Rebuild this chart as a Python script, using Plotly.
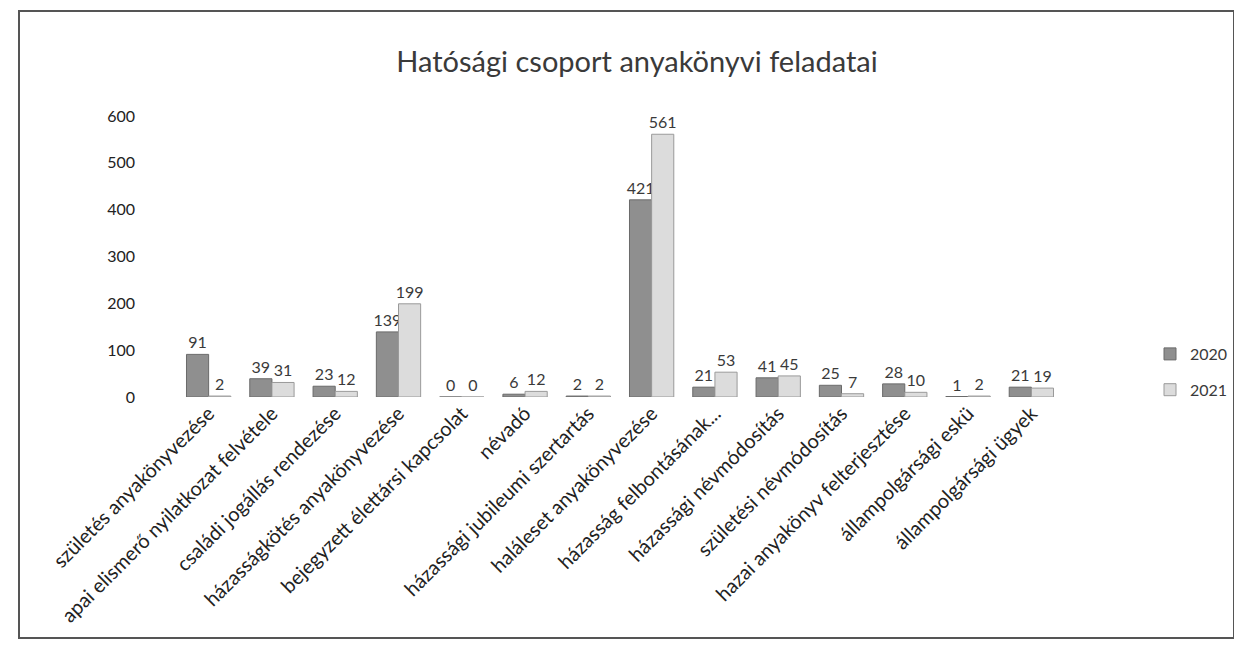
import plotly.graph_objects as go

categories = [
    "születés anyakönyvezése",
    "apai elismerő nyilatkozat felvétele",
    "családi jogállás rendezése",
    "házasságkötés anyakönyvezése",
    "bejegyzett élettársi kapcsolat",
    "névadó",
    "házassági jubileumi szertartás",
    "haláleset anyakönyvezése",
    "házasság felbontásának...",
    "házassági névmódosítás",
    "születési névmódosítás",
    "hazai anyakönyv felterjesztése",
    "állampolgársági eskü",
    "állampolgársági ügyek",
]
values_2020 = [91, 39, 23, 139, 0, 6, 2, 421, 21, 41, 25, 28, 1, 21]
values_2021 = [2, 31, 12, 199, 0, 12, 2, 561, 53, 45, 7, 10, 2, 19]
series_names = ["2020", "2021"]
y_ticks = [0, 100, 200, 300, 400, 500, 600]

FONT = "Lato, 'Noto Sans', sans-serif"

fig = go.Figure()
fig.add_trace(go.Bar(
    name=series_names[0], x=categories, y=values_2020, legendgroup="a",
    marker=dict(color="#8f8f8f", line=dict(color="#6a6a6a", width=1)),
    text=values_2020, textposition="outside", cliponaxis=False,
    constraintext="none",
    textfont=dict(size=16, color="#3a3a3a", family=FONT),
))
fig.add_trace(go.Bar(
    name=series_names[1], x=categories, y=values_2021, legendgroup="b",
    marker=dict(color="#dcdcdc", line=dict(color="#9a9a9a", width=1)),
    text=values_2021, textposition="outside", cliponaxis=False,
    constraintext="none",
    textfont=dict(size=16, color="#3a3a3a", family=FONT),
))

# page body has an 8px margin; figure coords = screen coords - 8
OFF = 8
W, H = 1242 - 2 * OFF, 652 - 2 * OFF
PL, PR, PT, PB = 177 - OFF, 1063 - OFF, 116 - OFF, 397 - OFF  # plot area (figure px)
L, R, T, B = PL, W - PR, PT, H - PB
pw, ph = PR - PL, PB - PT

def px_x(sx):
    return (sx - OFF - PL) / pw

def px_y(sy):
    return (PB - (sy - OFF)) / ph

fig.update_layout(
    width=W, height=H,
    margin=dict(l=L, r=R, t=T, b=B, autoexpand=False),
    paper_bgcolor="white", plot_bgcolor="white",
    barmode="group", bargap=0.3, bargroupgap=0.0,
    font=dict(family=FONT, color="#3a3a3a"),
    title=dict(text="Hatósági csoport anyakönyvi feladatai",
               x=(637 - OFF) / W, xanchor="center",
               y=1 - (62 - OFF) / H, yanchor="middle",
               font=dict(size=29, color="#3a3a3a", family=FONT)),
    xaxis=dict(tickangle=-45, tickfont=dict(size=20, color="#222222"),
               showline=False, ticks="", showgrid=False, automargin=False),
    yaxis=dict(range=[0, 600], tickvals=y_ticks, showgrid=False,
               zeroline=False, showline=False, ticks="", automargin=False,
               tickfont=dict(size=16, color="#222222"), ticklabelstandoff=41),
    legend=dict(x=px_x(1150), y=px_y(372), xanchor="left", yanchor="middle",
                font=dict(size=16, color="#3a3a3a"), tracegroupgap=12,
                itemwidth=30),
    showlegend=True,
    shapes=[dict(type="rect", xref="paper", yref="paper",
                 x0=px_x(19), x1=px_x(1234), y0=px_y(638), y1=px_y(11),
                 line=dict(color="#555555", width=2), fillcolor="rgba(0,0,0,0)")],
)

fig.write_html("out.html")
